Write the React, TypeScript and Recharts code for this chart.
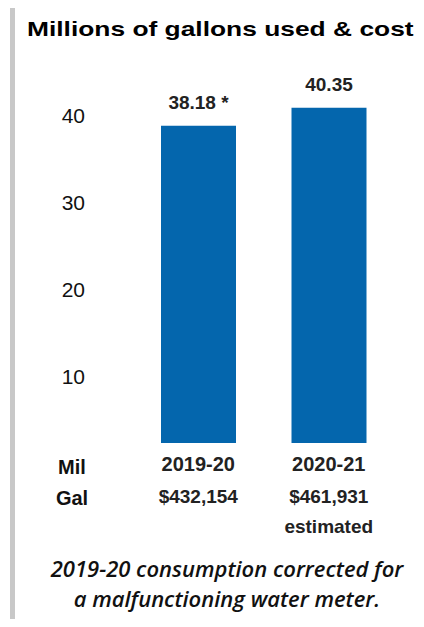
import React from 'react';
import { BarChart, Bar, XAxis, YAxis, LabelList } from 'recharts';

const years = ['2019-20', '2020-21'];
const gallons = [38.18, 40.35];
const valueLabels = ['38.18 *', '40.35'];
const costs = ['$432,154', '$461,931'];
const costNotes = ['', 'estimated'];
const yTicks = [10, 20, 30, 40];

const data = years.map((year, i) => ({
  year,
  gallons: gallons[i],
  label: valueLabels[i],
  cost: costs[i],
  note: costNotes[i],
}));

const FONT = '"Liberation Sans", Arial, sans-serif';

// tick labels in the source sit a little below their gridline values
const YTick = (props: any) => {
  const { x, y, payload } = props;
  const shift = 5 + (payload.value === 40 ? 0 : (40 - payload.value) * 0.4);
  return (
    <text x={x} y={y} dx={-42} dy={shift + 7} textAnchor="end" fontFamily={FONT} fontSize={21} fill="#111">
      {payload.value}
    </text>
  );
};

const XTick = (props: any) => {
  const { x, y, index } = props;
  const row = data[index];
  return (
    <g fontFamily={FONT} fontWeight="bold" fill="#222" textAnchor="middle">
      <text x={x} y={y} dy={22} fontSize={20}>{row.year}</text>
      <text x={x} y={y} dy={54} fontSize={19}>{row.cost}</text>
      {row.note && <text x={x} y={y} dy={84} fontSize={19}>{row.note}</text>}
    </g>
  );
};

const ValueLabel = (props: any) => {
  const { x, y, width, index } = props;
  return (
    <text x={x + width / 2} y={y} dy={-17} textAnchor="middle" fontFamily={FONT} fontWeight="bold" fontSize={19} fill="#222">
      {data[index].label}
    </text>
  );
};

export default function App() {
  return (
    <div style={{ position: 'relative', width: 424, height: 627, margin: -8, background: '#fff', overflow: 'hidden' }}>
      {/* frame */}
      <div style={{ position: 'absolute', left: 10, top: 4, width: 420, height: 622, borderLeft: '5px solid #c8c8c8', borderTop: '4px solid #c8c8c8' }} />
      <div style={{ position: 'absolute', left: 27, top: 17, fontFamily: FONT, fontWeight: 'bold', fontSize: 21, color: '#000', whiteSpace: 'nowrap', transform: 'scaleX(1.255)', transformOrigin: 'left' }}>
        Millions of gallons used &amp; cost
      </div>
      <div style={{ position: 'absolute', left: 0, top: 0 }}>
        <BarChart width={424} height={627} data={data} margin={{ top: 69, right: 30, bottom: 0, left: 73 }} barCategoryGap={27}>
          <YAxis
            domain={[0, 45]}
            ticks={yTicks}
            axisLine={false}
            tickLine={false}
            width={60}
            tick={<YTick />}
            tickMargin={0}
          />
          <XAxis dataKey="year" axisLine={false} tickLine={false} height={184} tick={<XTick />} interval={0} tickMargin={0} />
          <Bar dataKey="gallons" fill="#0466ad" barSize={75} isAnimationActive={false}>
            <LabelList dataKey="label" content={<ValueLabel />} />
          </Bar>
        </BarChart>
      </div>
      <div style={{ position: 'absolute', left: 40, top: 452, fontFamily: FONT, fontWeight: 'bold', fontSize: 20, lineHeight: '31px', color: '#111', textAlign: 'center', width: 64 }}>
        Mil<br />Gal
      </div>
      <div style={{ position: 'absolute', left: 17, width: 420, top: 553, fontFamily: '"Open Sans", sans-serif', fontStyle: 'italic', fontWeight: 600, fontSize: 22, lineHeight: '30px', color: '#111', textAlign: 'center' }}>
        2019-20 consumption corrected for<br />a malfunctioning water meter.
      </div>
    </div>
  );
}
